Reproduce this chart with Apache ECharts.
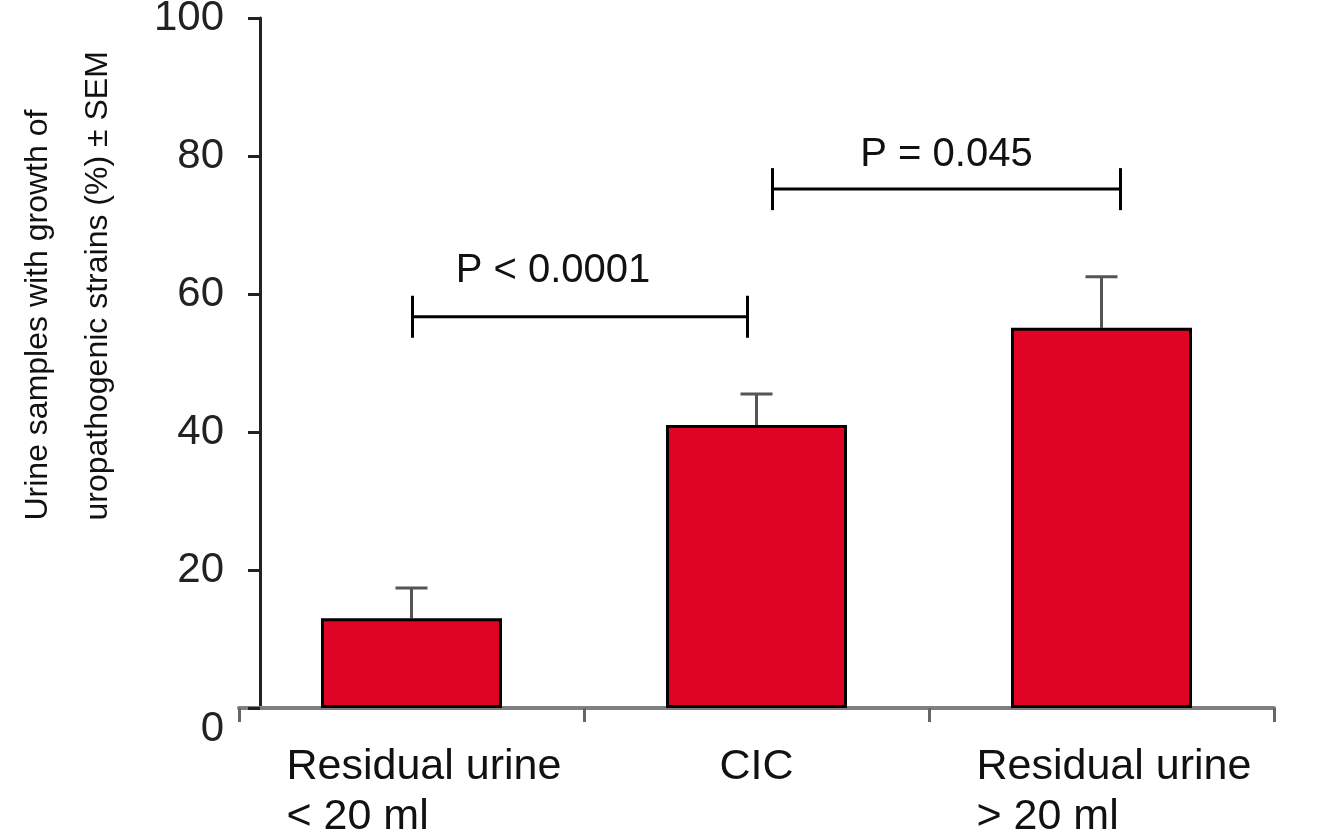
<!DOCTYPE html>
<html>
<head>
<meta charset="utf-8">
<style>
  html, body { margin: 0; padding: 0; background: #fff; }
  #chart { width: 1317px; height: 834px; }
</style>
<script src="https://cdn.jsdelivr.net/npm/echarts@6/dist/echarts.min.js"></script>
</head>
<body>
<div id="chart"></div>
<script>
// data
const categories = ["Residual urine\n< 20 ml", "CIC", "Residual urine\n> 20 ml"];
const barValues = [13.0, 41.0, 55.1];
const errTop = [17.4, 45.5, 62.5];
const yTicks = [0, 20, 40, 60, 80, 100];
const bracketFrom = [0, 1];
const bracketTo = [1, 2];
const bracketLevel = [56.7, 75.2];
const bracketLabels = ["P < 0.0001", "P = 0.045"];

const FONT = "Liberation Sans, Arial, sans-serif";
const INK = "#000";

// pixel nudges for the bracket ends / label (layout only)
const bracketLayout = [
  { dx: [1, -9], lift: 46, textDx: -27 },
  { dx: [16, 19], lift: 34, textDx: 0 },
];

const chart = echarts.init(document.getElementById("chart"));

const option = {
  animation: false,
  backgroundColor: "#fff",
  grid: { left: 239, right: 43, top: 18, bottom: 126, outerBoundsMode: "none", containLabel: false },
  xAxis: {
    type: "category",
    data: categories,
    axisLine: { lineStyle: { color: "#7f7f7f", width: 4 } },
    axisTick: {
      show: true,
      inside: false,
      alignWithLabel: false,
      interval: 0,
      length: 14,
      lineStyle: { color: "#666", width: 3 },
    },
    axisLabel: {
      interval: 0,
      margin: 34,
      color: "#111",
      fontFamily: FONT,
      fontSize: 43,
      lineHeight: 50,
      formatter: (v) => {
        if (v.indexOf("\n") < 0) return v;
        return v.split("\n").map((s) => "{a|" + s + "}").join("\n");
      },
      rich: {
        a: {
          width: 290,
          align: "left",
          padding: [0, 0, 0, 40],
          fontFamily: FONT,
          fontSize: 43,
          lineHeight: 50,
          color: "#111",
        },
      },
    },
  },
  yAxis: {
    type: "value",
    min: yTicks[0],
    max: yTicks[yTicks.length - 1],
    interval: 20,
    offset: -21,
    name: "{a|Urine samples with growth of}\n{a|uropathogenic strains (%) \u00b1 SEM}",
    nameLocation: "middle",
    nameGap: 132,
    nameTextStyle: {
      fontFamily: FONT,
      fontSize: 32,
      lineHeight: 60,
      color: "#111",
      padding: [0, 0, 0, 150],
      rich: {
        a: {
          width: 465,
          align: "left",
          fontFamily: FONT,
          fontSize: 32,
          lineHeight: 60,
          color: "#111",
        },
      },
    },
    axisLine: { show: true, lineStyle: { color: "#222", width: 3 } },
    axisTick: { show: true, length: 12, lineStyle: { color: "#222", width: 3 } },
    splitLine: { show: false },
    axisLabel: {
      margin: 36,
      color: "#222",
      fontFamily: FONT,
      fontSize: 42,
      verticalAlignMinLabel: "top",
    },
  },
  series: [
    {
      name: "errors",
      type: "custom",
      z: 1,
      data: barValues.map((v, i) => [i, v, errTop[i]]),
      encode: { x: 0, y: [1, 2] },
      renderItem: (params, api) => {
        const base = api.coord([api.value(0), api.value(1)]);
        const top = api.coord([api.value(0), api.value(2)]);
        const cap = 16;
        const style = { stroke: "#555", lineWidth: 3 };
        return {
          type: "group",
          children: [
            { type: "line", shape: { x1: base[0], y1: base[1], x2: base[0], y2: top[1] }, style },
            { type: "line", shape: { x1: top[0] - cap, y1: top[1], x2: top[0] + cap, y2: top[1] }, style },
          ],
        };
      },
    },
    {
      name: "samples",
      type: "bar",
      z: 2,
      data: barValues,
      barWidth: 181,
      itemStyle: { color: "#E00424", borderColor: INK, borderWidth: 3 },
    },
    {
      name: "brackets",
      type: "custom",
      z: 3,
      data: bracketLevel.map((lv, i) => [bracketFrom[i], bracketTo[i], lv]),
      encode: { x: [0, 1], y: 2 },
      renderItem: (params, api) => {
        const i = params.dataIndex;
        const lay = bracketLayout[i];
        const a = api.coord([api.value(0), api.value(2)]);
        const b = api.coord([api.value(1), api.value(2)]);
        const x1 = a[0] + lay.dx[0];
        const x2 = b[0] + lay.dx[1];
        const y = a[1];
        const h = 21;
        const style = { stroke: INK, lineWidth: 3 };
        return {
          type: "group",
          children: [
            { type: "line", shape: { x1, y1: y, x2, y2: y }, style },
            { type: "line", shape: { x1, y1: y - h, x2: x1, y2: y + h }, style },
            { type: "line", shape: { x1: x2, y1: y - h, x2, y2: y + h }, style },
            {
              type: "text",
              x: (x1 + x2) / 2 + lay.textDx,
              y: y - lay.lift,
              style: {
                text: bracketLabels[i],
                fill: "#111",
                font: "40px " + FONT,
                align: "center",
                verticalAlign: "middle",
              },
            },
          ],
        };
      },
    },
  ],
};

chart.setOption(option);
</script>
</body>
</html>
